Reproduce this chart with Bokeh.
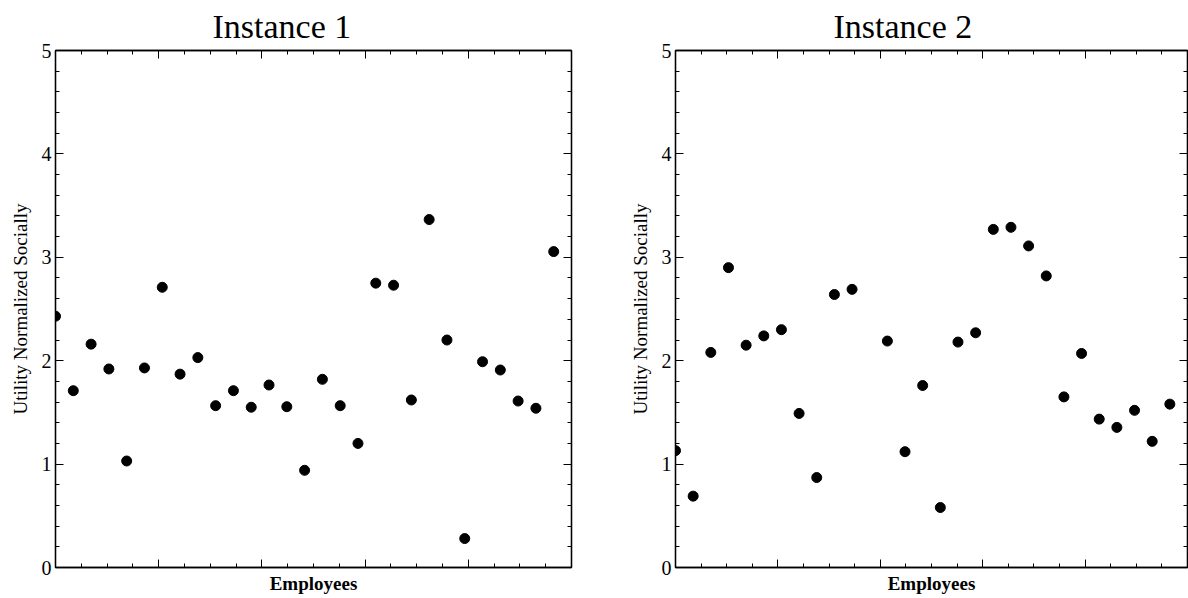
import numpy as np
from bokeh.plotting import figure
from bokeh.layouts import row
from bokeh.models import ColumnDataSource, Range1d, FixedTicker, LinearAxis, CustomJSTickFormatter
from bokeh.embed import file_html
from bokeh.resources import INLINE

titles = ["Instance 1", "Instance 2"]
x_label = "Employees"
y_label = "Utility Normalized Socially"
y_ticks = [0, 1, 2, 3, 4, 5]

instance1 = [2.43, 1.71, 2.16, 1.92, 1.03, 1.93, 2.71, 1.87, 2.03, 1.565,
             1.71, 1.55, 1.765, 1.555, 0.94, 1.82, 1.565, 1.20, 2.75, 2.73,
             1.62, 3.365, 2.20, 0.28, 1.99, 1.91, 1.61, 1.54, 3.055]
instance2 = [1.13, 0.69, 2.08, 2.90, 2.15, 2.24, 2.30, 1.49, 0.87, 2.64,
             2.69, float("nan"), 2.19, 1.12, 1.76, 0.58, 2.18, 2.27, 3.27, 3.29,
             3.11, 2.82, 1.65, 2.07, 1.435, 1.355, 1.52, 1.22, 1.58]

SERIF = "Liberation Serif"


def style_axis(ax, labels):
    ax.axis_line_color = "black"
    ax.axis_line_width = 1.3
    ax.major_tick_in = 8
    ax.major_tick_out = 0
    ax.minor_tick_in = 4
    ax.minor_tick_out = 0
    ax.major_tick_line_color = "black"
    ax.minor_tick_line_color = "black"
    ax.major_tick_line_width = 1
    ax.minor_tick_line_width = 1
    if labels:
        ax.major_label_text_font = SERIF
        ax.major_label_text_font_size = "20px"
        ax.major_label_text_color = "black"
        ax.major_label_standoff = 4
    else:
        ax.formatter = CustomJSTickFormatter(code="return ''")
        ax.major_label_text_font_size = "0px"
        ax.major_label_standoff = 0


def make(values, title, width, left, right, offset):
    n = len(values)
    src = ColumnDataSource(dict(x=np.arange(n) + 0.0, y=values))
    p = figure(width=width, height=598, output_backend="svg", toolbar_location=None,
               x_range=Range1d(0, n), y_range=Range1d(0, 5),
               min_border_left=left, min_border_right=right,
               min_border_top=50, min_border_bottom=31)
    p.title.text = title
    p.title.text_font = SERIF
    p.title.text_font_size = "34px"
    p.title.text_font_style = "normal"
    p.title.text_color = "black"
    p.title.align = "left"
    p.title.offset = offset
    p.title.standoff = 11
    p.grid.visible = False
    p.outline_line_color = "black"
    p.outline_line_width = 1.3
    p.background_fill_color = "white"
    p.border_fill_color = "white"

    xt = FixedTicker(ticks=list(np.linspace(0, n, 6)), minor_ticks=list(np.linspace(0, n, 21)))
    yt = FixedTicker(ticks=y_ticks, minor_ticks=list(np.arange(0, 5.001, 0.2)))

    p.xaxis.ticker = xt
    p.yaxis.ticker = yt
    style_axis(p.xaxis[0], False)
    style_axis(p.yaxis[0], True)
    p.xaxis.axis_label = x_label
    p.xaxis.axis_label_text_font = SERIF
    p.xaxis.axis_label_text_font_style = "bold"
    p.xaxis.axis_label_text_font_size = "19px"
    p.xaxis.axis_label_text_color = "black"
    p.xaxis.axis_label_standoff = 5
    p.yaxis.axis_label = y_label
    p.yaxis.axis_label_text_font = SERIF
    p.yaxis.axis_label_text_font_style = "normal"
    p.yaxis.axis_label_text_font_size = "19px"
    p.yaxis.axis_label_text_color = "black"
    p.yaxis.axis_label_standoff = 8

    top = LinearAxis(ticker=xt)
    style_axis(top, False)
    p.add_layout(top, "above")
    rgt = LinearAxis(ticker=yt)
    style_axis(rgt, False)
    p.add_layout(rgt, "right")

    p.scatter("x", "y", source=src, size=10, color="black", line_color="black")
    return p


p1 = make(instance1, titles[0], 600, 55, 29, 157)
p2 = make(instance2, titles[1], 588, 75, 1, 158)
layout = row(p1, p2)
open("out.html", "w").write(file_html(layout, INLINE))
